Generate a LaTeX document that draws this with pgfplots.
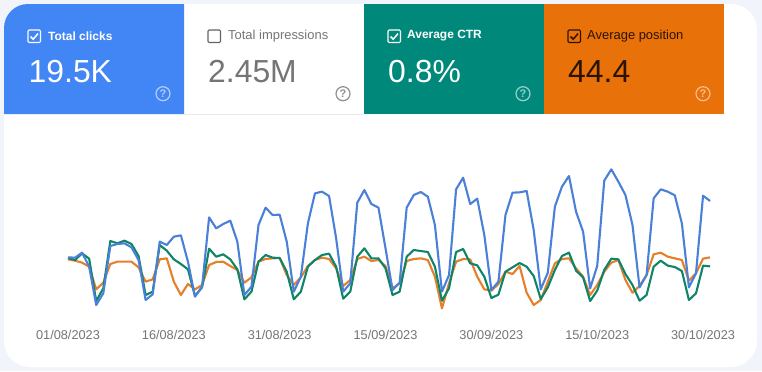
\documentclass[border=0pt]{standalone}
\usepackage{pgfplots}
\usepackage{pgfplotstable}
\usepackage{fontspec}
\pgfplotsset{compat=1.18}
\setmainfont{Liberation Sans}
\definecolor{pagebg}{HTML}{F1F4FB}
\definecolor{gblue}{HTML}{4285F4}
\definecolor{ggreen}{HTML}{00897B}
\definecolor{gorange}{HTML}{E8710A}
\definecolor{lblue}{HTML}{4A80D8}
\definecolor{lgreen}{HTML}{0E8468}
\definecolor{lorange}{HTML}{E57F2A}
\definecolor{ggray}{HTML}{757575}
\definecolor{dark}{HTML}{2A1400}
\pgfplotstableread{
day clicks ctr position
0 218 216 212
1 217 210 208
2 232 230 202
3 190 214 190
4 75 87 122
5 110 125 142
6 252 267 198
7 258 260 205
8 260 268 205
9 248 258 205
10 210 222 188
11 90 105 145
12 107 115 152
13 265 255 212
14 255 238 215
15 280 212 145
16 284 198 105
17 205 182 138
18 100 102 122
19 130 128 135
20 338 244 195
21 305 220 204
22 318 227 205
23 328 212 192
24 265 182 180
25 105 92 142
26 130 115 158
27 315 205 205
28 367 225 213
29 345 217 215
30 346 216 216
31 265 175 165
32 115 92 135
33 160 115 158
34 320 190 192
35 410 210 210
36 415 225 217
37 402 229 213
38 275 190 185
39 115 94 132
40 140 115 150
41 382 220 213
42 420 245 220
43 378 215 207
44 367 215 210
45 245 185 192
46 120 105 125
47 142 115 140
48 367 220 207
49 405 240 213
50 414 237 215
51 400 234 210
52 315 190 160
53 115 88 65
54 165 125 140
55 422 234 205
56 457 243 213
57 378 200 212
58 394 194 160
59 285 160 122
60 120 96 118
61 145 106 138
62 345 175 175
63 412 188 168
64 413 201 192
65 417 190 112
66 300 162 75
67 122 93 90
68 172 128 145
69 370 180 200
70 430 222 213
71 462 232 215
72 355 178 185
73 295 158 160
74 125 87 105
75 192 118 135
76 448 180 175
77 482 214 202
78 445 212 210
79 405 168 150
80 315 135 112
81 128 88 132
82 165 105 165
83 395 190 227
84 422 208 232
85 415 193 220
86 404 189 215
87 320 177 210
88 128 90 148
89 170 110 170
90 403 193 214
91 387 191 218
}\gsc
% helpers: checkbox and help icon
\newcommand{\cbox}[3]{% x, y, colour
  \draw[#3,line width=1.1bp,rounded corners=1.2bp] (#1,#2) rectangle ++(12.5,12.5);
  \draw[#3,line width=1.5bp] (#1+2.6,#2+6.6) -- (#1+5.2,#2+9.2) -- (#1+10,#2+3.6);
}
\newcommand{\uebox}[3]{%
  \draw[#3,line width=1.1bp,rounded corners=1.2bp] (#1,#2) rectangle ++(12.5,12.5);
}
\newcommand{\helpicon}[3]{% x, colour, opacity
  \draw[#2,opacity=#3,line width=1.2bp] (#1,93.7) circle (7);
  \node[text=#2,opacity=#3,font=\fontsize{11}{12}\selectfont\bfseries,inner sep=0pt] at (#1,93.7) {?};
}
\begin{document}
\begin{tikzpicture}[x=1bp,y=-1bp]
\fill[pagebg] (0,0) rectangle (762,371);
\fill[white,rounded corners=26bp] (4,4) rectangle (757,367);
% cards
\fill[gblue] (184,4) -- (184,114) -- (4,114) -- (4,28) .. controls (4,14.7) and (14.7,4) .. (28,4) -- cycle;
\fill[ggreen] (364,4) rectangle (544,114);
\fill[gorange] (544,4) rectangle (724,114);
\draw[black!8,line width=0.5bp] (184,114) -- (364,114);
% card 1
\cbox{28}{30}{white}
\node[anchor=west,inner sep=0pt,text=white,font=\fontsize{12}{15}\selectfont\bfseries] at (48,36) {Total clicks};
\node[anchor=base west,inner sep=0pt,text=white,font=\fontsize{32}{36}\selectfont] at (28.5,82.5) {19.5K};
\helpicon{163}{white}{0.6}
% card 2
\uebox{208}{30}{ggray!85!black}
\node[anchor=west,inner sep=0pt,text=ggray,font=\fontsize{13}{15}\selectfont] at (228,36) {Total impressions};
\node[anchor=base west,inner sep=0pt,text=ggray,font=\fontsize{32}{36}\selectfont] at (208,82.5) {2.45M};
\helpicon{343}{ggray}{0.8}
% card 3
\cbox{388}{30}{white}
\node[anchor=west,inner sep=0pt,text=white,font=\fontsize{12}{15}\selectfont\bfseries] at (407,36) {Average CTR};
\node[anchor=base west,inner sep=0pt,text=white,font=\fontsize{32}{36}\selectfont] at (388,82.5) {0.8\%};
\helpicon{523}{white}{0.6}
% card 4
\cbox{568}{30}{dark}
\node[anchor=west,inner sep=0pt,text=dark,font=\fontsize{13}{15}\selectfont] at (587,36) {Average position};
\node[anchor=base west,inner sep=0pt,text=dark,font=\fontsize{32}{36}\selectfont] at (568,82.5) {44.4};
\helpicon{703}{white}{0.55}
\coordinate (plotorigin) at (68,330);
\begin{axis}[
  at={(plotorigin)},anchor=south west,
  scale only axis,
  width=642.1bp,height=170bp,
  xmin=0,xmax=91,ymin=0,ymax=510,
  axis line style={draw=none},
  ytick=\empty,
  xtick={0,15,30,45,60,75,90},
  xticklabels={01/08/2023,16/08/2023,31/08/2023,15/09/2023,30/09/2023,15/10/2023,30/10/2023},
  major tick length=0pt,
  xticklabel style={anchor=center,yshift=-4.7bp,text=ggray,font=\fontsize{12.8}{15}\selectfont},
  clip=false,
]
\addplot[lorange,line width=2.1bp,line join=round] table[x=day,y=position] {\gsc};
\addplot[lgreen,line width=2.1bp,line join=round] table[x=day,y=ctr] {\gsc};
\addplot[lblue,line width=2.1bp,line join=round] table[x=day,y=clicks] {\gsc};
\end{axis}
\end{tikzpicture}
\end{document}
